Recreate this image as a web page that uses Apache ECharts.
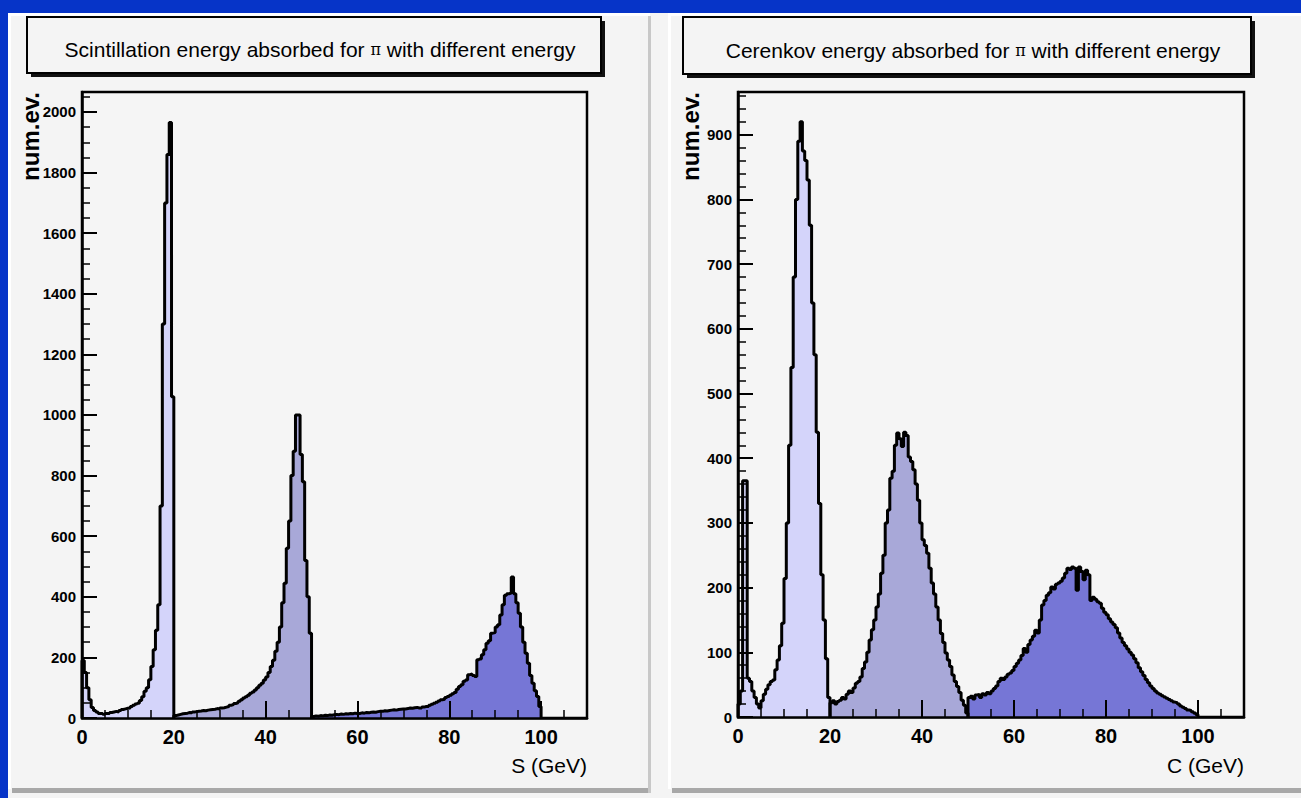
<!DOCTYPE html>
<html><head><meta charset="utf-8">
<script src="https://cdn.jsdelivr.net/npm/echarts/dist/echarts.min.js"></script>
<style>html,body{margin:0;padding:0;background:#0634c8;}#c{width:1301px;height:798px;}</style>
</head><body><div id="c"></div>
<script>
// ---- data (0.5 GeV bins) ----
const binWidth = 0.5;
const xTickLabels = [0, 20, 40, 60, 80, 100];
// Scintillation (S) panel
const sPi20Start = 0;
const sPi20 = [190,150,100,60,35, 25,20,15,15,12, 15,15,18,20,22, 20,25,28,30,32,
  33,38,42,46,49, 58,70,88,100,126, 170,225,290,374,700, 1300,1700,1860,1965,1060];
const sPi50Start = 20;
const sPi50 = [8,10,12,14,15,16,18,17,20,21, 22,23,25,24,26,27,28,29,31,30,
  33,34,36,38,42,44,48,50,55,60, 66,70,75,82,86,92,100,108,115,125,
  135,150,170,191,220,250,300,380,445,560, 650,800,880,1000,1000,870,780,520,400,280];
const sPi100Start = 50;
const sPi100 = [5,7,6,8,7,9,8,10,9,11, 12,11,13,12,14,13,15,14,16,15,
  15,17,16,18,17,19,20,19,21,22, 22,24,23,25,26,27,26,28,29,30,
  30,31,33,32,34,35,33,33,36,38, 38,42,45,49,52,56,60,62,68,71,
  75,80,84,95,104,110,121,125,143,145, 140,137,192,195,209,225,247,255,280,282,
  300,308,340,374,405,410,412,465,410,380, 346,300,250,214,181,140,115,90,71,38];
// Cerenkov (C) panel
const cPi20Start = 0;
const cPi20 = [20,40,365,365,60, 55,40,30,20,14, 25,35,43,50,55, 57,73,88,110,145,
  214,300,420,540,680, 800,890,920,875,860, 830,760,640,560,440, 330,220,150,90,30];
const cPi50Start = 20;
const cPi50 = [22,25,20,24,26,30,28,35,40,38, 45,52,55,62,75,85,100,119,135,150,
  170,190,222,250,300,320,369,380,420,439, 430,418,440,435,402,395,382,360,335,300,
  274,265,253,230,207,190,170,150,129,115, 99,88,78,65,55,47,38,26,18,6];
const cPi100Start = 50;
const cPi100 = [30,32,28,34,35,30,36,34,38,36, 40,44,48,55,60,58,62,66,68,72,
  78,83,88,95,106,100,112,119,125,134, 130,150,173,180,188,192,201,198,205,207,
  210,215,222,230,228,232,230,196,232,225, 212,227,220,180,185,182,178,176,168,162,
  158,152,147,143,138,130,122,115,110,105, 100,96,90,84,76,70,64,58,53,48,
  44,40,37,35,33,31,29,27,25,23, 22,20,17,15,13,11,10,8,6,4];

const fills = ['#d4d4fa', '#a8a8d8', '#7676d6'];

function histPoints(start, vals) {
  const pts = [[start, 0]];
  vals.forEach((v, i) => pts.push([start + i * binWidth, v]));
  pts.push([start + vals.length * binWidth, 0]);
  return pts;
}

const chart = echarts.init(document.getElementById('c'), null, {renderer: 'svg', width: 1301, height: 798});

const FONT = '"Liberation Sans", Arial, Helvetica, sans-serif';

function grid(left, top, width, height) {
  return {left, top, width, height, show: true, backgroundColor: '#f5f5f5',
    borderColor: '#000', borderWidth: 2.5, containLabel: false};
}
function xAxes(gi) {
  return [{
    gridIndex: gi, type: 'value', min: 0, max: 110, interval: 20, position: 'bottom', z: 10,
    axisLine: {show: true, onZero: false, lineStyle: {color: '#000', width: 2.5}},
    axisTick: {show: true, inside: true, length: 17, lineStyle: {color: '#000', width: 2}},
    axisLabel: {show: true, color: '#000', fontSize: 20, fontWeight: 'bold', fontFamily: FONT, margin: 9,
      showMaxLabel: false, formatter: v => xTickLabels.includes(v) ? String(v) : ''},
    splitLine: {show: false}
  }, {
    gridIndex: gi, type: 'value', min: 0, max: 110, interval: 5, position: 'bottom', z: 10,
    axisLine: {show: false}, axisLabel: {show: false}, splitLine: {show: false},
    axisTick: {show: true, inside: true, length: 8, lineStyle: {color: '#000', width: 1.5}}
  }];
}
function yAxes(gi, max, major, minor) {
  return [{
    gridIndex: gi, type: 'value', min: 0, max: max, interval: major, position: 'left', z: 10,
    axisLine: {show: true, onZero: false, lineStyle: {color: '#000', width: 2.5}},
    axisTick: {show: true, inside: true, length: 15, lineStyle: {color: '#000', width: 2}},
    axisLabel: {show: true, color: '#000', fontSize: 15, fontWeight: 'bold', fontFamily: FONT, margin: 6,
      showMaxLabel: false, formatter: v => String(v)},
    splitLine: {show: false}
  }, {
    gridIndex: gi, type: 'value', min: 0, max: max, interval: minor, position: 'left', z: 10,
    axisLine: {show: false}, axisLabel: {show: false}, splitLine: {show: false},
    axisTick: {show: true, inside: true, length: 8, lineStyle: {color: '#000', width: 1.5}}
  }];
}
function series(xi, yi, start, vals, color) {
  return {type: 'line', xAxisIndex: xi, yAxisIndex: yi, step: 'end', symbol: 'none',
    showSymbol: false, animation: false, silent: true, z: 2,
    lineStyle: {color: '#000', width: 3}, areaStyle: {color: color, opacity: 1},
    data: histPoints(start, vals)};
}

const titleRich = {pi: {fontFamily: '"DejaVu Serif", serif', fontSize: 16, color: '#000'}};

const option = {
  backgroundColor: '#0634c8',
  animation: false,
  title: [
    {text: 'Scintillation energy absorbed for {pi|π} with different energy', left: 315, top: 34,
      textAlign: 'center', textStyle: {fontFamily: FONT, fontSize: 21, fontWeight: 'normal', color: '#000', rich: titleRich}},
    {text: 'Cerenkov energy absorbed for {pi|π} with different energy', left: 968, top: 35,
      textAlign: 'center', textStyle: {fontFamily: FONT, fontSize: 21, fontWeight: 'normal', color: '#000', rich: titleRich}}
  ],
  graphic: [
    {type: 'rect', shape: {x: 8, y: 13, width: 1293, height: 785}, style: {fill: '#f4f4f4'}, z: -10},
    {type: 'rect', shape: {x: 8, y: 13, width: 642, height: 3}, style: {fill: '#ffffff'}, z: -9},
    {type: 'rect', shape: {x: 8, y: 13, width: 3, height: 776}, style: {fill: '#ffffff'}, z: -9},
    {type: 'rect', shape: {x: 668, y: 13, width: 633, height: 3}, style: {fill: '#ffffff'}, z: -9},
    {type: 'rect', shape: {x: 668, y: 13, width: 3, height: 776}, style: {fill: '#ffffff'}, z: -9},
    {type: 'rect', shape: {x: 12, y: 788, width: 638, height: 5}, style: {fill: '#a8a8a8'}, z: -9},
    {type: 'rect', shape: {x: 672, y: 788, width: 629, height: 5}, style: {fill: '#a8a8a8'}, z: -9},
    {type: 'rect', shape: {x: 648, y: 16, width: 3, height: 777}, style: {fill: '#c8c8c8'}, z: -9},
    {type: 'rect', shape: {x: 31, y: 21, width: 574, height: 56}, style: {fill: '#111'}, z: -8},
    {type: 'rect', shape: {x: 27, y: 17, width: 574, height: 56}, style: {fill: '#f4f4f4', stroke: '#000', lineWidth: 2}, z: -7},
    {type: 'rect', shape: {x: 687, y: 21, width: 568, height: 57}, style: {fill: '#111'}, z: -8},
    {type: 'rect', shape: {x: 683, y: 17, width: 568, height: 57}, style: {fill: '#f4f4f4', stroke: '#000', lineWidth: 2}, z: -7},
    {type: 'text', x: 30, y: 92, rotation: Math.PI / 2,
      style: {text: 'num.ev.', font: 'bold 24px ' + FONT, fill: '#000', textAlign: 'right', textVerticalAlign: 'middle'}},
    {type: 'text', x: 690, y: 92, rotation: Math.PI / 2,
      style: {text: 'num.ev.', font: 'bold 24px ' + FONT, fill: '#000', textAlign: 'right', textVerticalAlign: 'middle'}},
    {type: 'text', x: 587, y: 765,
      style: {text: 'S (GeV)', font: '21px ' + FONT, fill: '#000', textAlign: 'right', textVerticalAlign: 'middle'}},
    {type: 'text', x: 1244, y: 765,
      style: {text: 'C (GeV)', font: '21px ' + FONT, fill: '#000', textAlign: 'right', textVerticalAlign: 'middle'}}
  ],
  grid: [grid(82, 92, 505, 626), grid(738, 92, 506, 625)],
  xAxis: [...xAxes(0), ...xAxes(1)],
  yAxis: [...yAxes(0, 2066, 200, 50), ...yAxes(1, 966, 100, 20)],
  series: [
    series(0, 0, sPi100Start, sPi100, fills[2]),
    series(0, 0, sPi50Start, sPi50, fills[1]),
    series(0, 0, sPi20Start, sPi20, fills[0]),
    series(2, 2, cPi100Start, cPi100, fills[2]),
    series(2, 2, cPi50Start, cPi50, fills[1]),
    series(2, 2, cPi20Start, cPi20, fills[0])
  ]
};
chart.setOption(option);
</script></body></html>
